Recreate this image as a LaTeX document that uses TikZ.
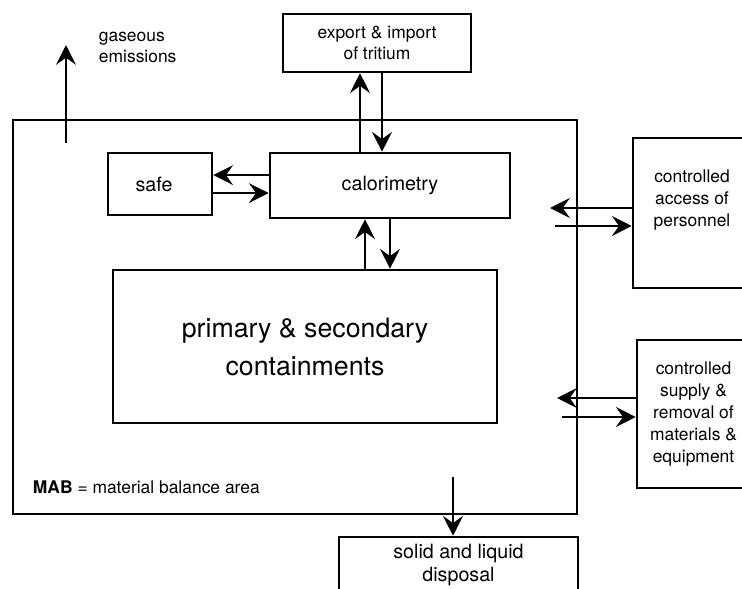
\documentclass[tikz,border=0pt]{standalone}
\usepackage{fontspec}
\setmainfont{TeX Gyre Heros}
\usetikzlibrary{
	positioning,   %定位
	arrows.meta,   %提供各种箭头
	calc           %计算
}
\tikzstyle{block}=[rectangle,
draw,
line width=1.8pt,
inner sep=0pt,
align=center]
\tikzset{
	smalltxt/.style={font=\fontsize{12.4}{15.5}\selectfont,align=center},
	midtxt/.style={font=\fontsize{14}{16.5}\selectfont,align=center},
	bigtxt/.style={font=\fontsize{19}{27}\selectfont,align=center},
	every picture/.style={
		>={Stealth[length=14pt,width=14pt,inset=5pt]},
		line width=1.8pt
}}

\begin{document}
\begin{tikzpicture}[x=0.025cm,y=-0.025cm]
\clip (0,0) rectangle (742,589);
% material balance area
\node[block,minimum width=14.1cm,minimum height=9.85cm] (mab) at (295,317) {};
\node[anchor=west,smalltxt] (mabtxt) at (27,487) {\textbf{MAB} = material balance area};
% inner boxes
\node[block,midtxt,minimum width=2.6cm,minimum height=1.55cm] (safe) at (160,184) {safe\hspace{0.3cm}};
\node[block,midtxt,minimum width=6cm,minimum height=1.625cm] (cal) at (390,185.5) {calorimetry};
\node[block,bigtxt,minimum width=9.6cm,minimum height=3.825cm] (prim) at (305,346.5) {primary \& secondary\\containments};
% outer boxes
\node[block,smalltxt,minimum width=4.7cm,minimum height=1.45cm] (exp) at (377,43) {export \& import\\of tritium};
\node[block,minimum width=2.975cm,minimum height=3.75cm] (acc) at (692.5,213) {};
\node[smalltxt] (acctxt) at (692,200) {controlled\\access of\\personnel};
\node[block,smalltxt,minimum width=2.825cm,minimum height=3.7cm] (sup) at (693.5,414) {controlled\\supply \&\\removal of\\materials \&\\equipment};
\node[block,midtxt,minimum width=5.975cm,minimum height=1.4cm] (solid) at (458.5,565) {solid and liquid\\disposal};
\node[anchor=west,smalltxt,align=left] (gastxt) at (93,47.5) {gaseous\\emissions};
% free ends
\coordinate (gasbot) at (66,143);
\coordinate (gastop) at (66,45);
\coordinate (accin) at (550,208);
\coordinate (accout) at (555,226);
\coordinate (supin) at (557,398);
\coordinate (supout) at (562,417);
\coordinate (soltop) at (453,477);
% connectors
\draw[->] (gasbot) -- (gastop);
\draw[->] ([xshift=-0.75cm]cal.north) -- ([xshift=-0.75cm]cal.north |- exp.south);
\draw[->] ([xshift=-0.2cm]cal.north |- exp.south) -- ([xshift=-0.2cm]cal.north);
\draw[->] ([xshift=-0.625cm]cal.south |- prim.north) -- ([xshift=-0.625cm]cal.south);
\draw[->] (cal.south) -- (cal.south |- prim.north);
\draw[->] ([yshift=0.26cm]cal.west) -- ([yshift=0.26cm]cal.west -| safe.east);
\draw[->] ([yshift=-0.19cm]cal.west -| safe.east) -- ([yshift=-0.19cm]cal.west);
\draw[->] (acc.west |- accin) -- (accin);
\draw[->] (accout) -- (accout -| acc.west);
\draw[->] (sup.west |- supin) -- (supin);
\draw[->] (supout) -- (supout -| sup.west);
\draw[->] (soltop) -- (soltop |- solid.north);
\end{tikzpicture}
\end{document}
